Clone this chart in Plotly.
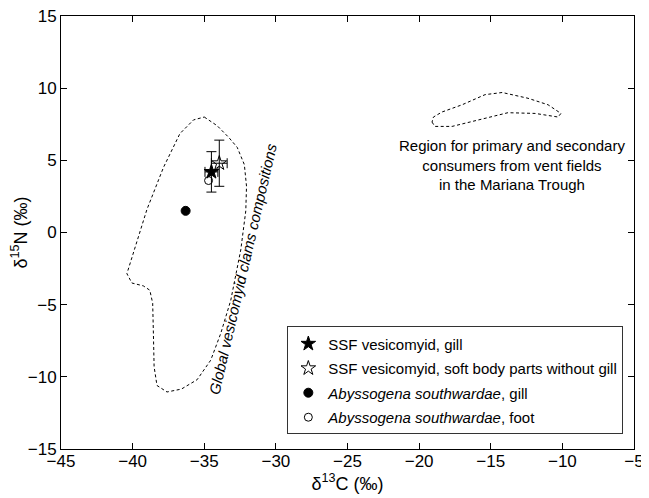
import plotly.graph_objects as go

# --- data ---
series_names = [
    "SSF vesicomyid, gill",
    "SSF vesicomyid, soft body parts without gill",
    "<i>Abyssogena southwardae</i>, gill",
    "<i>Abyssogena southwardae</i>, foot",
]
d13C = [-34.5, -33.95, -36.3, -34.7]
d15N = [4.2, 4.8, 1.5, 3.6]
err_C = [0.45, 0.55, None, None]
err_N = [1.4, 1.6, None, None]
symbols = ["star", "star-open", "circle", "circle-open"]

global_clam_C = [-35.0, -34.1, -33.3, -32.7, -32.2, -32.05, -32.1, -32.45, -33.15, -33.85,
                 -34.55, -35.5, -36.6, -37.6, -38.3, -38.5, -38.55, -38.6, -38.8, -39.25,
                 -40.05, -40.4, -40.1, -39.25, -39.0, -37.85, -36.7, -35.75, -35.0]
global_clam_N = [8.0, 7.4, 6.6, 5.9, 4.7, 3.2, 1.5, -1.2, -4.7, -7.0,
                 -8.85, -10.2, -10.85, -11.05, -10.6, -9.3, -7.0, -4.9, -4.0, -3.7,
                 -3.5, -2.85, -1.9, 0.85, 1.6, 4.5, 6.85, 7.8, 8.0]

mariana_C = [-19.1, -18.9, -17.7, -15.9, -13.8, -11.9, -10.3, -10.1, -11.0, -12.4,
             -14.2, -15.4, -17.0, -18.4, -19.0, -19.1]
mariana_N = [7.65, 7.35, 7.35, 7.8, 8.3, 8.25, 8.0, 8.25, 8.85, 9.3,
             9.7, 9.55, 8.85, 8.35, 8.0, 7.65]

x_ticks = [-45, -40, -35, -30, -25, -20, -15, -10, -5]
y_ticks = [-15, -10, -5, 0, 5, 10, 15]

FONT = "Liberation Sans, Arial, Helvetica, sans-serif"

fig = go.Figure()

dash = "3px,2.5px"
fig.add_trace(go.Scatter(x=global_clam_C, y=global_clam_N, mode="lines",
                         line=dict(color="black", width=1, dash=dash),
                         showlegend=False, hoverinfo="skip"))
fig.add_trace(go.Scatter(x=mariana_C, y=mariana_N, mode="lines",
                         line=dict(color="black", width=1, dash=dash),
                         showlegend=False, hoverinfo="skip"))

sizes = [11, 11, 9, 8]
for i, name in enumerate(series_names):
    kw = {}
    if err_C[i] is not None:
        kw["error_x"] = dict(type="data", array=[err_C[i]], color="black", thickness=1, width=5)
        kw["error_y"] = dict(type="data", array=[err_N[i]], color="black", thickness=1, width=5)
    fig.add_trace(go.Scatter(
        x=[d13C[i]], y=[d15N[i]], mode="markers", name=name,
        legendgroup=f"g{i}",
        marker=dict(symbol=symbols[i], size=sizes[i], color="black",
                    line=dict(color="black", width=1)),
        **kw))

fig.add_annotation(x=-13.5, y=4.67, xref="x", yref="y",
                   text="Region for primary and secondary<br>consumers from vent fields<br>in the Mariana Trough",
                   showarrow=False, font=dict(size=15, color="black", family=FONT), align="center")
fig.add_annotation(x=-32.3, y=-2.5, xref="x", yref="y",
                   text="<i>Global vesicomyid clams compositions</i>",
                   textangle=-77, showarrow=False,
                   font=dict(size=15, color="black", family=FONT))

axis_common = dict(showline=True, linecolor="black", linewidth=1, mirror="ticks",
                   ticks="inside", ticklen=6, tickcolor="black", tickwidth=1,
                   showgrid=False, zeroline=False, automargin=False,
                   ticklabeloverflow="allow",
                   tickfont=dict(size=17, color="black", family=FONT))

fig.update_xaxes(range=[-45, -5], tickvals=x_ticks, ticklabelstandoff=-3,
                 title=dict(text="δ<sup>13</sup>C (‰)", font=dict(size=18, color="black", family=FONT), standoff=0),
                 **axis_common)
fig.update_yaxes(range=[-15, 15], tickvals=y_ticks,
                 title=dict(text="δ<sup>15</sup>N (‰)", font=dict(size=18, color="black", family=FONT), standoff=2),
                 **axis_common)

# page body has an 8px default margin, so the figure is offset by (8, 8)
fig.update_layout(
    width=641, height=490,
    margin=dict(l=53, r=15, t=8, b=49),
    plot_bgcolor="white", paper_bgcolor="white",
    font=dict(family=FONT, color="black", size=15),
    legend=dict(x=0.395, y=0.283, xanchor="left", yanchor="top",
                bordercolor="#333", borderwidth=1, bgcolor="white",
                tracegroupgap=2, font=dict(size=15, color="black", family=FONT)),
)

fig.write_html("out.html")
